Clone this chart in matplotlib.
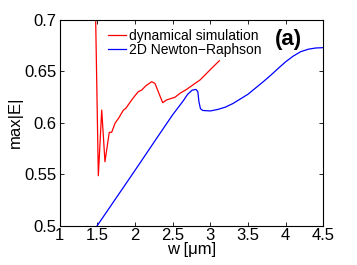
import matplotlib
matplotlib.use("Agg")
from matplotlib import pyplot as plt

# red curve: dynamical simulation
sim_w = [1.475, 1.515, 1.56, 1.603, 1.66, 1.692, 1.736, 1.79, 1.846, 1.88,
         1.957, 2.0, 2.045, 2.09, 2.15, 2.19, 2.223, 2.267, 2.31, 2.369,
         2.42, 2.488, 2.53, 2.598, 2.687, 2.797, 2.863, 2.93, 3.018, 3.106, 3.12]
sim_e = [0.72, 0.5485, 0.6122, 0.562, 0.5906, 0.5906, 0.5993, 0.605, 0.612, 0.6139,
         0.6219, 0.626, 0.630, 0.6316, 0.636, 0.638, 0.6397, 0.638, 0.630, 0.6193,
         0.622, 0.6236, 0.6245, 0.6284, 0.6323, 0.638, 0.6413, 0.6462, 0.6527, 0.659, 0.66]

# blue curve: 2D Newton-Raphson
nr_w = [1.5, 2.0, 2.3, 2.5, 2.64, 2.7, 2.76, 2.81, 2.835, 2.85, 2.87, 2.9,
        3.0, 3.1, 3.2, 3.3, 3.4, 3.5, 3.6, 3.7, 3.8, 3.9, 4.0, 4.1, 4.2,
        4.3, 4.4, 4.5]
nr_e = [0.5, 0.5535, 0.586, 0.6075, 0.621, 0.6275, 0.6315, 0.6322, 0.630, 0.620,
        0.6135, 0.6118, 0.6113, 0.6128, 0.615, 0.6185, 0.623, 0.6275, 0.6335, 0.6395,
        0.6458, 0.6525, 0.659, 0.6645, 0.6688, 0.6712, 0.6724, 0.6727]

x_ticks = [1, 1.5, 2, 2.5, 3, 3.5, 4, 4.5]
x_labels = ["1", "1.5", "2", "2.5", "3", "3.5", "4", "4.5"]
y_ticks = [0.5, 0.55, 0.6, 0.65, 0.7]
y_labels = ["0.5", "0.55", "0.6", "0.65", "0.7"]

plt.rcParams["font.family"] = ["Liberation Sans", "DejaVu Sans"]

fig = plt.figure(figsize=(3.57, 2.65), dpi=100)
ax = fig.add_axes([0.1667, 0.1483, 0.739, 0.778])

ax.plot(sim_w, sim_e, color="#ff0000", lw=0.9, label="dynamical simulation")
ax.plot(nr_w, nr_e, color="#0000ff", lw=0.9, label="2D Newton\u2212Raphson")

ax.set_xlim(1, 4.5)
ax.set_ylim(0.5, 0.7)
ax.set_xticks(x_ticks)
ax.set_xticklabels(x_labels)
ax.set_yticks(y_ticks)
ax.set_yticklabels(y_labels)
ax.tick_params(direction="in", top=True, right=True, length=3, width=0.6,
               labelsize=12, pad=2)
for s in ax.spines.values():
    s.set_linewidth(0.8)

ax.set_xlabel("w [\u03bcm]", fontsize=12, labelpad=-1)
ax.set_ylabel("max|E|", fontsize=12, labelpad=1)

ax.legend(loc="upper left", bbox_to_anchor=(0.15, 1.0), frameon=False,
          fontsize=10, handlelength=1.3, handletextpad=0.2,
          labelspacing=0.05, borderaxespad=0.25)
ax.text(0.866, 0.905, "(a)", transform=ax.transAxes, fontsize=16,
        fontweight="bold", ha="center", va="center")

fig.savefig("out.png", dpi=100)
